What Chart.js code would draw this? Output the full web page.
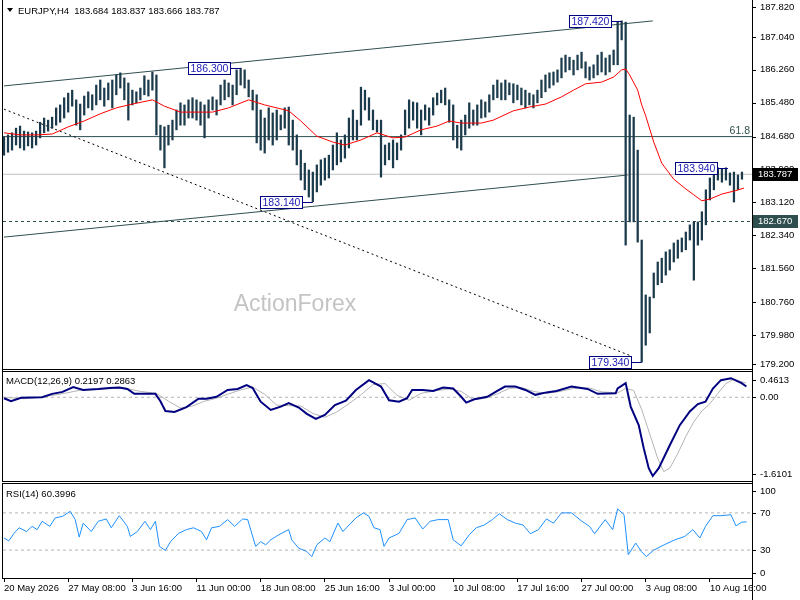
<!DOCTYPE html>
<html>
<head>
<meta charset="utf-8">
<title>EURJPY H4</title>
<script src="https://cdn.jsdelivr.net/npm/chart.js@4.4.1/dist/chart.umd.min.js"></script>
<style>
  html, body { margin: 0; padding: 0; background: #fff; }
  #wrap { position: relative; width: 800px; height: 600px; overflow: hidden; }
  canvas { position: absolute; left: 0; }
  #pricePanel { top: 0; }
  #macdPanel { top: 370px; }
  #rsiPanel { top: 483px; }
</style>
</head>
<body>
<div id="wrap">
  <canvas id="pricePanel" width="800" height="370"></canvas>
  <canvas id="macdPanel" width="800" height="113"></canvas>
  <canvas id="rsiPanel" width="800" height="117"></canvas>
</div>
<script>
// ---- data (one bar = two H4 candles) ----
const titleText = "EURJPY,H4  183.684 183.837 183.666 183.787";
const xTickPos = [0, 16, 32, 48, 64, 80, 96, 112, 128, 144, 160, 176];
const xTickLabels = ["20 May 2026", "27 May 08:00", "3 Jun 16:00", "11 Jun 00:00", "18 Jun 08:00", "25 Jun 16:00",
  "3 Jul 00:00", "10 Jul 08:00", "17 Jul 16:00", "27 Jul 00:00", "3 Aug 08:00", "10 Aug 16:00"];

const barHighs = [
  184.67, 184.72, 184.77, 184.88, 184.93, 184.81, 184.79, 184.77, 184.81, 185.02,
  185.12, 185.07, 185.14, 185.36, 185.43, 185.60, 185.71, 185.78, 185.55, 185.45,
  185.64, 185.74, 185.67, 185.90, 186.02, 185.83, 185.95, 186.02, 186.14, 186.19,
  186.07, 185.95, 185.78, 185.74, 185.83, 186.12, 186.02, 186.21, 186.14, 184.95,
  184.91, 184.95, 185.07, 185.31, 185.48, 185.43, 185.55, 185.60, 185.55, 185.50,
  185.43, 185.55, 185.62, 185.55, 185.90, 186.02, 185.95, 185.90, 186.26, 186.30,
  186.26, 186.02, 185.78, 185.67, 185.31, 185.12, 185.36, 185.24, 185.31, 185.19,
  185.36, 185.38, 185.07, 184.72, 184.36, 184.05, 183.89, 183.84, 184.01, 184.13,
  184.17, 184.24, 184.48, 184.77, 184.60, 184.72, 185.12, 185.31, 185.07, 185.85,
  185.78, 185.60, 185.31, 185.07, 185.07, 184.48, 184.53, 184.60, 184.53, 184.72,
  185.31, 185.55, 185.50, 185.48, 185.31, 185.43, 185.36, 185.60, 185.71, 185.78,
  185.83, 185.55, 185.43, 184.95, 185.07, 185.19, 185.48, 185.31, 185.43, 185.55,
  185.50, 185.67, 185.90, 186.02, 185.95, 186.02, 185.95, 185.93, 185.90, 185.83,
  185.78, 185.71, 185.67, 185.78, 186.02, 186.14, 186.19, 186.21, 186.26, 186.54,
  186.61, 186.56, 186.49, 186.61, 186.68, 186.45, 186.33, 186.38, 186.61, 186.68,
  186.54, 186.61, 186.73, 187.39, 187.42, 187.39, 185.19, 185.14, 184.36, 182.23,
  180.93, 180.88, 181.45, 181.71, 181.80, 181.95, 182.00, 182.16, 182.23, 182.28,
  182.42, 182.59, 182.66, 182.66, 182.90, 183.42, 183.70, 183.89, 183.94, 183.91,
  183.94, 183.82, 183.84, 183.77, 183.84
];
const barLows = [
  184.24, 184.31, 184.36, 184.48, 184.41, 184.36, 184.46, 184.41, 184.48, 184.65,
  184.77, 184.81, 184.88, 184.95, 185.02, 185.12, 185.26, 185.40, 184.95, 184.84,
  185.19, 185.36, 185.31, 185.43, 185.55, 185.40, 185.55, 185.36, 185.67, 185.83,
  185.55, 185.07, 185.43, 185.48, 185.55, 185.67, 185.64, 185.78, 184.72, 184.36,
  183.94, 184.48, 184.60, 184.84, 184.95, 184.95, 185.12, 185.12, 185.07, 184.95,
  184.65, 185.12, 185.31, 185.19, 185.43, 185.55, 185.62, 185.43, 185.67, 185.90,
  185.83, 185.62, 185.31, 184.53, 184.36, 184.29, 184.60, 184.48, 184.60, 184.84,
  184.88, 184.48, 184.36, 184.01, 183.65, 183.42, 183.25, 183.14, 183.37, 183.53,
  183.65, 183.70, 183.89, 184.01, 184.08, 184.17, 184.41, 184.60, 184.60, 184.95,
  185.31, 185.07, 184.84, 184.79, 183.72, 184.01, 184.13, 183.94, 184.13, 184.36,
  184.72, 184.88, 185.07, 184.88, 184.72, 185.07, 184.95, 185.19, 185.43, 185.48,
  185.43, 185.02, 184.60, 184.41, 184.36, 184.72, 184.88, 184.95, 184.95, 185.12,
  185.14, 185.26, 185.55, 185.60, 185.55, 185.55, 185.67, 185.48, 185.55, 185.43,
  185.36, 185.43, 185.36, 185.48, 185.60, 185.74, 185.83, 185.90, 185.97, 186.07,
  186.21, 186.26, 186.14, 186.26, 186.30, 186.07, 186.02, 186.07, 186.14, 186.21,
  186.14, 186.21, 186.38, 186.38, 186.97, 182.11, 182.66, 182.66, 182.18, 179.34,
  179.74, 180.03, 180.86, 181.17, 181.22, 181.40, 181.52, 181.71, 181.80, 181.95,
  182.00, 182.23, 181.28, 182.11, 182.23, 182.59, 183.18, 183.42, 183.65, 183.60,
  183.65, 183.53, 183.13, 183.42, 183.67
];

const maPosK = [0, 4, 8, 12, 16, 20, 24, 28, 32, 37, 40, 44, 48, 52, 56, 61, 65, 71, 74, 78,
  82, 85, 89, 93, 97, 100, 104, 108, 111, 114, 119, 122, 127, 131, 135, 139, 142, 145, 149, 152,
  154, 155, 156, 158, 159, 160, 162, 164, 167, 170, 172, 174, 176, 179, 182, 184.5];
const maValues = [184.77, 184.72, 184.72, 184.74, 184.91, 185.05, 185.22, 185.36, 185.45, 185.55,
  185.40, 185.26, 185.26, 185.26, 185.36, 185.55, 185.43, 185.29, 185.05, 184.69,
  184.55, 184.48, 184.60, 184.77, 184.65, 184.67, 184.84, 184.93, 185.05, 185.00,
  185.00, 185.07, 185.29, 185.38, 185.45, 185.62, 185.78, 185.93, 185.97, 186.09,
  186.26, 186.28, 186.14, 185.78, 185.43, 185.17, 184.55, 184.05, 183.67, 183.44,
  183.30, 183.16, 183.20, 183.32, 183.39, 183.46];

const priceTicks = [187.82, 187.04, 186.26, 185.48, 184.68, 183.90, 183.12, 182.34, 181.56, 180.76, 179.98, 179.20];
const fibLevel = 184.68;
const fibLabel = "61.8";
const lastPrice = 183.787;
const supportLevel = 182.67;

const upperChannelK = [0, 161.75];
const upperChannel = [185.88, 187.42];
const lowerChannelK = [0, 155.5];
const lowerChannel = [182.30, 183.77];
const downTrendK = [0, 156.5];
const downTrend = [185.33, 179.48];

const swingK = [59, 77, 154, 180.5, 159];
const swingPrice = [186.30, 183.14, 187.42, 183.94, 179.34];

const macdPosK = [0, 1.75, 4.25, 9.5, 12, 14.6, 17.25, 19.75, 23.5, 26.25, 28.75, 30.75, 32.5, 35.25, 37.75,
  39, 40.25, 42.5, 45.5, 48.5, 50.5, 53, 55.75, 58.25, 60.5, 62, 64, 66.5, 69, 71, 73.5, 75.5, 77.75,
  80, 82.5, 85.25, 87.75, 91, 94, 96, 98.5, 100.5, 101.75, 104.4, 107, 109.5, 112, 114, 115.25, 117.25,
  120.5, 123, 124.9, 127.5, 130, 132.5, 135.25, 137.75, 141.5, 145.5, 148, 152.5, 153, 155, 156.25,
  158.25, 159.5, 160.75, 161.75, 163.25, 166, 168.5, 171, 173, 174.9, 176.75, 178.75, 181.25, 183.9, 185.1];
const macdMain = [-0.02, -0.08, -0.01, 0.00, 0.07, 0.11, 0.21, 0.15, 0.17, 0.19, 0.20, 0.17, 0.07, 0.07, 0.07,
  -0.08, -0.28, -0.30, -0.20, -0.03, -0.03, 0.01, 0.15, 0.17, 0.25, 0.19, -0.09, -0.26, -0.19, -0.12, -0.21, -0.34, -0.44,
  -0.36, -0.16, -0.07, 0.15, 0.35, 0.22, -0.06, -0.09, -0.02, 0.15, 0.15, 0.13, 0.20, 0.18, 0.01, -0.11, -0.04,
  0.01, 0.13, 0.22, 0.22, 0.15, 0.05, 0.10, 0.13, 0.22, 0.17, 0.07, 0.08, 0.18, 0.29, -0.19,
  -0.57, -1.04, -1.45, -1.61, -1.45, -0.98, -0.57, -0.29, -0.14, -0.09, 0.18, 0.35, 0.39, 0.29, 0.22];
const signalPosK = [0, 5, 10, 15, 20, 25, 30, 34, 38, 41, 44, 47, 50, 53, 56, 59, 62, 65, 68, 71, 74, 77, 80,
  83, 86, 89, 92, 95, 98, 101, 104, 108, 111, 114, 117, 120, 123, 126, 129, 132, 135, 138, 142, 146, 149,
  153, 155, 157, 159, 161, 163, 164.5, 166, 168, 170, 172, 174, 176, 178, 180, 182, 185];
const macdSignal = [0.00, -0.03, 0.01, 0.08, 0.16, 0.17, 0.19, 0.12, 0.08, -0.08, -0.22, -0.18, -0.08, -0.02, 0.07,
  0.15, 0.21, 0.06, -0.16, -0.17, -0.18, -0.33, -0.41, -0.30, -0.13, 0.05, 0.26, 0.28, 0.04, -0.06, 0.08, 0.14,
  0.17, 0.12, -0.05, -0.02, 0.07, 0.18, 0.20, 0.12, 0.08, 0.11, 0.18, 0.19, 0.11, 0.09, 0.18, 0.14, -0.25,
  -0.75, -1.25, -1.52, -1.45, -1.15, -0.80, -0.50, -0.28, -0.13, 0.08, 0.28, 0.37, 0.29];
const macdTicks = [0.4613, 0, -1.6101];
const macdTickLabels = ["0.4613", "0.00", "-1.6101"];
const macdTitle = "MACD(12,26,9) 0.2197 0.2863";

const rsiPosK = [0, 1.2, 2.5, 3.75, 5.65, 7, 8.25, 9.5, 11.4, 12.75, 14.6, 16.5, 17.75, 18.75, 19.75, 21.75,
  23.5, 25.5, 26.75, 28.75, 30.75, 31.5, 33.25, 35.15, 36.5, 37.75, 38.75, 40.25, 41.5, 43.5, 45.5, 47.25,
  49.25, 50.5, 51.75, 53.75, 55.75, 57.5, 59.5, 60.75, 62.75, 64, 65.25, 66.5, 68.5, 71, 71.75, 73.5, 75.5,
  76.75, 78, 80, 81.25, 83.25, 84.5, 86.5, 87.75, 89.6, 91, 92.25, 93.75, 94.75, 96, 98.5, 100.5, 102.5,
  104.4, 106.25, 108.25, 110.75, 112, 114, 116, 117.75, 119.75, 121.75, 123.5, 125.5, 127.5, 129.4, 131.25,
  133.25, 135.25, 137, 139, 141.5, 144.1, 146, 147.25, 149.9, 151.75, 153, 154.6, 155.65, 157.5, 158.9,
  160.15, 162, 164.6, 167.25, 169.75, 171.75, 173.5, 174.9, 176.75, 178.75, 181.25, 182.5, 183.9, 185.15];
const rsiValues = [43, 40, 48, 54, 50, 55.5, 52, 61, 55.5, 64.6, 66.3, 71.7, 62.8, 44, 59, 50,
  61, 63.5, 54, 67, 55.5, 44.7, 50, 61, 52, 61, 34, 29.6, 39, 48, 52, 54,
  50, 41, 54, 55.5, 62.8, 55.5, 63.5, 62.8, 34, 39, 35.7, 41, 46.5, 52, 41, 32, 28.5,
  23, 35.7, 43, 39, 59, 50, 59, 64.6, 70, 66.3, 54, 52, 34, 43, 48, 62.8, 64.6,
  52.7, 61, 62.8, 62.8, 41, 34.6, 46.5, 54, 57, 62.8, 69, 62.8, 59, 57, 47.6,
  52, 63.5, 59, 70, 70, 61, 55.5, 47.6, 62.8, 52, 74.3, 68, 25, 37.6, 28.5,
  23, 30, 35.7, 41, 44.7, 52, 43, 55.5, 67, 67, 68, 56, 60, 60.4];
const rsiTicks = [100, 70, 30, 0];
const rsiLevels = [70, 30];
const rsiTitle = "RSI(14) 60.3996";

// ---- drawing ----
const FONT = '"Liberation Sans", Arial, sans-serif';
const xMin = -0.25, xMax = 186.5;
const ink = "#1b3a4b";
const slate = "#2f4f4f";

function pts(ks, vs) {
  return ks.map((k, i) => ({ x: k, y: vs[i] }));
}
function flat(v) {
  return [{ x: xMin, y: v }, { x: xMax, y: v }];
}
function lineSet(data, color, width, dash, order) {
  return { type: "line", data, borderColor: color, borderWidth: width, borderDash: dash || [],
    pointRadius: 0, tension: 0, fill: false, order };
}

function xAxis(showLabels) {
  return {
    type: "linear", min: xMin, max: xMax, offset: false, display: showLabels,
    grid: { display: true, drawOnChartArea: false, drawTicks: true, tickLength: 4, color: "#000" },
    border: { display: false },
    afterBuildTicks: s => { s.ticks = xTickPos.map(v => ({ value: v })); },
    afterFit: s => { s.height = showLabels ? 22 : 0; },
    ticks: { autoSkip: false, maxRotation: 0, align: "start", padding: 1, color: "#000",
      font: { family: FONT, size: 9.5 }, callback: (v, i) => xTickLabels[i] }
  };
}
function yAxis(min, max) {
  return {
    position: "right", min, max,
    grid: { display: false }, border: { display: false }, ticks: { display: false },
    afterFit: s => { s.width = 48; }
  };
}

// right-hand value labels, tick marks and border
const axisText = {
  id: "axisText",
  afterDraw(chart, args, o) {
    const { ctx, chartArea: a } = chart;
    const ys = chart.scales.y;
    ctx.save();
    ctx.font = "9.5px " + FONT;
    ctx.fillStyle = "#000";
    ctx.strokeStyle = "#000";
    ctx.lineWidth = 1;
    ctx.textBaseline = "middle";
    o.values.forEach((v, i) => {
      const py = ys.getPixelForValue(v);
      const ty = Math.min(Math.max(py, a.top + o.insetTop), a.bottom - o.insetBottom);
      ctx.beginPath();
      ctx.moveTo(a.right, Math.round(ty) + 0.5);
      ctx.lineTo(a.right + 4, Math.round(ty) + 0.5);
      ctx.stroke();
      ctx.fillText(o.labels[i], a.right + 8, ty);
    });
    ctx.beginPath();
    ctx.moveTo(a.right + 0.5, 0);
    ctx.lineTo(a.right + 0.5, chart.height);
    ctx.moveTo(2.5, 0);
    ctx.lineTo(2.5, o.frameBottom + 0.5);
    if (o.frameTop !== null) {
      ctx.moveTo(2, o.frameTop + 0.5);
      ctx.lineTo(a.right, o.frameTop + 0.5);
    }
    ctx.moveTo(2, o.frameBottom + 0.5);
    ctx.lineTo(a.right, o.frameBottom + 0.5);
    ctx.stroke();
    if (o.title) {
      ctx.textBaseline = "alphabetic";
      ctx.fillText(o.title, 6, o.titleY);
    }
    ctx.restore();
  }
};

// watermark, swing labels, price tags and header on the price panel
const priceDecor = {
  id: "priceDecor",
  beforeDatasetsDraw(chart) {
    const { ctx } = chart;
    ctx.save();
    ctx.font = "23px " + FONT;
    ctx.fillStyle = "#c4c4c4";
    ctx.textAlign = "center";
    ctx.textBaseline = "middle";
    ctx.fillText("ActionForex", 295, 305);
    ctx.restore();
  },
  afterDraw(chart) {
    const { ctx, chartArea: a, scales: { x, y } } = chart;
    ctx.save();
    // swing high / low boxes
    ctx.font = "10.5px " + FONT;
    ctx.textBaseline = "middle";
    swingK.forEach((k, i) => {
      const px = x.getPixelForValue(k);
      const py = Math.round(y.getPixelForValue(swingPrice[i])) + 0.5;
      const txt = swingPrice[i].toFixed(3);
      const w = Math.ceil(ctx.measureText(txt).width) + 4;
      const right = Math.round(px) - 11;
      ctx.strokeStyle = "#000080";
      ctx.lineWidth = 1;
      ctx.beginPath();
      ctx.moveTo(right, py);
      ctx.lineTo(px, py);
      ctx.stroke();
      ctx.fillStyle = "#fff";
      ctx.fillRect(right - w, py - 6, w, 12);
      ctx.strokeRect(right - w + 0.5, py - 6, w, 12);
      ctx.fillStyle = "#1c1cb4";
      ctx.fillText(txt, right - w + 2.5, py + 0.5);
    });
    // fibonacci tag
    ctx.fillStyle = slate;
    ctx.textAlign = "right";
    ctx.textBaseline = "alphabetic";
    ctx.fillText(fibLabel, a.right - 2, y.getPixelForValue(fibLevel) - 3);
    // price tags on the axis
    ctx.textAlign = "left";
    ctx.textBaseline = "middle";
    ctx.font = "9.5px " + FONT;
    [[lastPrice, "#000"], [supportLevel, slate]].forEach(([v, bg]) => {
      const py = Math.round(y.getPixelForValue(v));
      ctx.fillStyle = bg;
      ctx.fillRect(a.right + 1, py - 6, 45, 13);
      ctx.fillStyle = "#fff";
      ctx.fillText(v.toFixed(3), a.right + 6, py + 0.5);
    });
    // header
    ctx.fillStyle = "#000";
    ctx.beginPath();
    ctx.moveTo(7, 8); ctx.lineTo(13, 8); ctx.lineTo(10, 12); ctx.closePath();
    ctx.fill();
    ctx.textBaseline = "alphabetic";
    ctx.fillText(titleText, 18, 14);
    ctx.restore();
  }
};

const common = {
  responsive: false, animation: false, events: [],
  plugins: { legend: { display: false }, tooltip: { enabled: false } }
};

new Chart(document.getElementById("pricePanel"), {
  type: "bar",
  data: {
    datasets: [
      lineSet(pts(maPosK, maValues), "#ff0000", 1, null, 0),
      { type: "bar", data: barLows.map((l, i) => ({ x: i, y: [l, barHighs[i]] })),
        backgroundColor: ink, borderWidth: 0, barThickness: 1.6, order: 1 },
      lineSet(pts(upperChannelK, upperChannel), slate, 1, null, 2),
      lineSet(pts(lowerChannelK, lowerChannel), slate, 1, null, 2),
      lineSet(pts(downTrendK, downTrend), "#000", 1, [2, 3], 2),
      lineSet(flat(fibLevel), slate, 1, null, 3),
      lineSet(flat(lastPrice), "#c0c0c0", 1, null, 3),
      lineSet(flat(supportLevel), slate, 1, [3, 3], 3)
    ]
  },
  options: {
    ...common,
    layout: { padding: { left: 3, top: 4, bottom: 2, right: 0 } },
    scales: { x: xAxis(false), y: yAxis(179.2, 187.82) },
    plugins: { ...common.plugins,
      axisText: { values: priceTicks, labels: priceTicks.map(v => v.toFixed(3)), insetTop: 3, insetBottom: 4,
        frameTop: null, frameBottom: 369, title: null } }
  },
  plugins: [axisText, priceDecor]
});

new Chart(document.getElementById("macdPanel"), {
  type: "line",
  data: {
    datasets: [
      lineSet(pts(macdPosK, macdMain), "#000080", 2, null, 0),
      lineSet(pts(signalPosK, macdSignal), "#b4b4b4", 1, null, 1),
      lineSet(flat(0), "#b4b4b4", 1, [3, 3], 2)
    ]
  },
  options: {
    ...common,
    layout: { padding: { left: 3, top: 2, bottom: 2, right: 0 } },
    scales: { x: xAxis(false), y: yAxis(-1.712, 0.517) },
    plugins: { ...common.plugins,
      axisText: { values: macdTicks, labels: macdTickLabels, insetTop: 8, insetBottom: 7,
        frameTop: 1, frameBottom: 111, title: macdTitle, titleY: 14 } }
  },
  plugins: [axisText]
});

new Chart(document.getElementById("rsiPanel"), {
  type: "line",
  data: {
    datasets: [
      lineSet(pts(rsiPosK, rsiValues), "#1e90ff", 1, null, 0),
      lineSet(flat(rsiLevels[0]), "#b4b4b4", 1, [3, 3], 1),
      lineSet(flat(rsiLevels[1]), "#b4b4b4", 1, [3, 3], 1)
    ]
  },
  options: {
    ...common,
    layout: { padding: { left: 3, top: 2, bottom: 0, right: 0 } },
    scales: { x: xAxis(true), y: yAxis(0, 100) },
    plugins: { ...common.plugins,
      axisText: { values: rsiTicks, labels: rsiTicks.map(String), insetTop: 6, insetBottom: 5,
        frameTop: 0, frameBottom: 95, title: rsiTitle, titleY: 14 } }
  },
  plugins: [axisText]
});
</script>
</body>
</html>
